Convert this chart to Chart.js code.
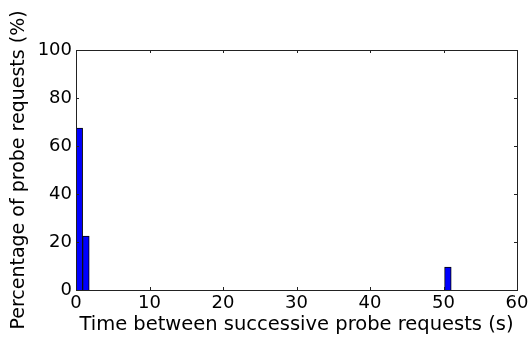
<!DOCTYPE html>
<html>
<head>
<meta charset="utf-8">
<script src="https://cdn.jsdelivr.net/npm/chart.js@4"></script>
<style>
  html, body { margin: 0; padding: 0; background: #fff; }
  #wrap { width: 532px; height: 337px; }
</style>
</head>
<body>
<div id="wrap"><canvas id="chart"></canvas></div>
<script>
// histogram bins (centre of each bin, seconds) and their share of probe requests
const binCenters = [0.45, 1.35, 50.6];
const percentages = [67.5, 22.5, 9.5];
const xTicks = [0, 10, 20, 30, 40, 50, 60];
const yTicks = [0, 20, 40, 60, 80, 100];

const FONT = 'DejaVu Sans';

// matplotlib-like frame with ticks pointing inward on all four sides
const frameTicks = {
  id: 'frameTicks',
  afterDraw(chart) {
    const { ctx, chartArea: a, scales } = chart;
    ctx.save();
    ctx.strokeStyle = '#222';
    ctx.lineWidth = 1;
    ctx.strokeRect(Math.round(a.left) + 0.5, Math.round(a.top) + 0.5,
      Math.round(a.right - a.left), Math.round(a.bottom - a.top));
    const len = 3;
    ctx.beginPath();
    xTicks.forEach(v => {
      const x = Math.round(scales.x.getPixelForValue(v)) + 0.5;
      ctx.moveTo(x, a.bottom); ctx.lineTo(x, a.bottom - len);
      ctx.moveTo(x, a.top); ctx.lineTo(x, a.top + len);
    });
    yTicks.forEach(v => {
      const y = Math.round(scales.y.getPixelForValue(v)) + 0.5;
      ctx.moveTo(a.left, y); ctx.lineTo(a.left + len, y);
      ctx.moveTo(a.right, y); ctx.lineTo(a.right - len, y);
    });
    ctx.stroke();
    ctx.restore();
  }
};

const ctx = document.getElementById('chart').getContext('2d');
new Chart(ctx, {
  type: 'bar',
  data: {
    datasets: [{
      data: binCenters.map((x, i) => ({ x: x, y: percentages[i] })),
      backgroundColor: '#0000ff',
      borderColor: '#000000',
      borderWidth: 1,
      barPercentage: 1,
      categoryPercentage: 1
    }]
  },
  options: {
    responsive: true,
    maintainAspectRatio: false,
    animation: false,
    layout: { padding: { top: 50, right: 15, left: 0, bottom: 0 } },
    plugins: { legend: { display: false }, tooltip: { enabled: false } },
    scales: {
      x: {
        type: 'linear',
        offset: false,
        min: 0, max: 60,
        afterBuildTicks: s => { s.ticks = xTicks.map(v => ({ value: v })); },
        afterFit: s => { s.height = 47; },
        grid: { display: false, drawTicks: false, offset: false },
        border: { display: false },
        ticks: { color: '#000', font: { family: FONT, size: 18 }, padding: 3, maxRotation: 0 },
        title: { display: true, text: 'Time between successive probe requests (s)', color: '#000',
                 font: { family: FONT, size: 19.5 }, padding: { top: 0, bottom: 0 } }
      },
      y: {
        min: 0, max: 100,
        afterBuildTicks: s => { s.ticks = yTicks.map(v => ({ value: v })); },
        afterFit: s => { s.width = 76; },
        grid: { display: false, drawTicks: false },
        border: { display: false },
        ticks: { color: '#000', font: { family: FONT, size: 18 }, padding: 4 },
        title: { display: true, text: 'Percentage of probe requests (%)', color: '#000',
                 font: { family: FONT, size: 19 }, padding: { top: 8, bottom: 0 } }
      }
    }
  },
  plugins: [frameTicks]
});
</script>
</body>
</html>
